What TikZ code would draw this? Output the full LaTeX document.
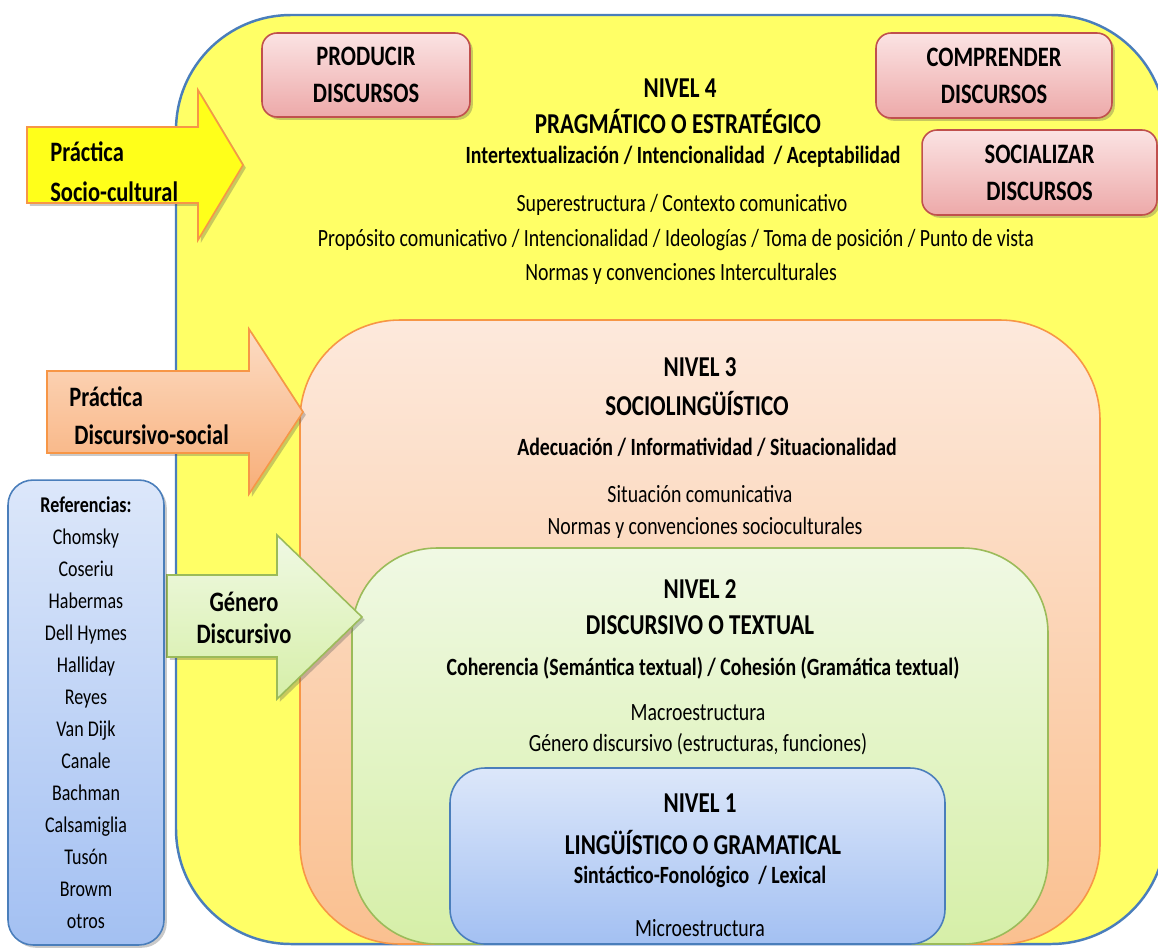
\documentclass[tikz,border=0pt]{standalone}
\usepackage{fontspec}
\setmainfont[FakeStretch=0.8]{Carlito}
\usetikzlibrary{shadows}
\definecolor{amarillo}{HTML}{FFFF66}
\definecolor{azulborde}{HTML}{4A7EBB}
\definecolor{naranjaborde}{HTML}{F79646}
\definecolor{naranjaA}{HTML}{FDE9DC}
\definecolor{naranjaB}{HTML}{FAC090}
\definecolor{verdeborde}{HTML}{9BBB59}
\definecolor{verdeA}{HTML}{F0F9E4}
\definecolor{verdeB}{HTML}{D6EFA8}
\definecolor{azulA}{HTML}{DCE7FA}
\definecolor{azulB}{HTML}{A3C0F2}
\definecolor{rosaborde}{HTML}{C0504D}
\definecolor{rosaA}{HTML}{FBE3E3}
\definecolor{rosaB}{HTML}{EDA9A9}
\definecolor{flechaam}{HTML}{FFFF1A}
\definecolor{flechanA}{HTML}{FCDCC4}
\definecolor{flechanB}{HTML}{F8AE78}
\tikzset{
  softshadow/.style={drop shadow={shadow xshift=1.6pt, shadow yshift=-1.6pt, opacity=0.3, fill=black!70}},
  nivelcuatro/.style={draw=azulborde, fill=amarillo, line width=1.4pt, rounded corners=2.3cm},
  niveltres/.style={draw=naranjaborde, top color=naranjaA, bottom color=naranjaB, line width=0.9pt, rounded corners=2cm},
  niveldos/.style={draw=verdeborde, top color=verdeA, bottom color=verdeB, line width=0.9pt, rounded corners=1.7cm},
  niveluno/.style={draw=azulborde, top color=azulA, bottom color=azulB, line width=0.9pt, rounded corners=0.7cm},
  rosa/.style={draw=rosaborde, top color=rosaA, bottom color=rosaB, line width=0.9pt, rounded corners=0.3cm,
    softshadow, align=center, font=\fontsize{16}{21}\selectfont\bfseries},
  refbox/.style={draw=azulborde, top color=azulA, bottom color=azulB, line width=0.9pt, rounded corners=0.5cm,
    softshadow, align=center, font=\fontsize{12.8}{18.2}\selectfont},
  flecha/.style={line width=0.9pt, line join=miter, softshadow},
  txt/.style={font=\fontsize{14.1}{16}\selectfont, inner sep=0pt},
  txtb/.style={font=\fontsize{14.1}{16}\selectfont\bfseries, inner sep=0pt},
  ttl/.style={font=\fontsize{16.4}{18}\selectfont\bfseries, inner sep=0pt},
  flechatxt/.style={font=\fontsize{16}{18}\selectfont\bfseries, inner sep=0pt},
}
\begin{document}
\begin{tikzpicture}[x=0.02cm, y=-0.02cm]
  \useasboundingbox (0,0) rectangle (1158,947);

  % niveles
  \draw[nivelcuatro] (176,15) rectangle (1166,944);
  \draw[niveltres] (300,320) rectangle (1100,944);
  \draw[niveldos] (352,548) rectangle (1048,944);
  \draw[niveluno] (450,768) rectangle (945,944);

  % acciones
  \node[rosa, minimum width=4.16cm, minimum height=1.68cm] (producir) at (366,75) {PRODUCIR\\DISCURSOS};
  \node[rosa, minimum width=4.72cm, minimum height=1.7cm] (comprender) at (994,75.5) {COMPRENDER\\DISCURSOS};
  \node[rosa, minimum width=4.7cm, minimum height=1.7cm] (socializar) at (1039.5,172.5) {SOCIALIZAR\\DISCURSOS};

  % flechas
  \draw[flecha, draw=naranjaborde, fill=flechaam]
    (27,127) -- (198,127) -- (198,90) -- (243,165) -- (198,240) -- (198,203) -- (27,203) -- cycle;
  \draw[flecha, draw=naranjaborde, top color=flechanA, bottom color=flechanB]
    (47,371) -- (249,371) -- (249,329) -- (303,412) -- (249,494) -- (249,453) -- (47,453) -- cycle;
  \draw[flecha, draw=verdeborde, top color=verdeA, bottom color=verdeB]
    (167,575) -- (277,575) -- (277,535) -- (362,617) -- (277,699) -- (277,657) -- (167,657) -- cycle;

  \node[flechatxt, anchor=west] (pract1) at (50,152) {Práctica};
  \node[flechatxt, anchor=west] (sociocult) at (50,192) {Socio-cultural};
  \node[flechatxt, anchor=west] (pract2) at (69,397) {Práctica};
  \node[flechatxt, anchor=west] (discsoc) at (74,435) {Discursivo-social};
  \node[flechatxt] (genero) at (244,602) {Género};
  \node[flechatxt] (discurs) at (244,634) {Discursivo};

  % referencias
  \node[refbox, minimum width=3.12cm, minimum height=9.3cm] (refs) at (86,712.5)
    {{\bfseries Referencias:}\\Chomsky\\Coseriu\\Habermas\\Dell Hymes\\Halliday\\Reyes\\Van Dijk\\Canale\\Bachman\\Calsamiglia\\Tusón\\Browm\\otros};

  % nivel 4
  \node[ttl] (n4) at (680,88) {NIVEL 4};
  \node[ttl] (n4t) at (678,121) {PRAGMÁTICO O ESTRATÉGICO};
  \node[txtb] (n4a) at (683,157) {Intertextualización / Intencionalidad \ / Aceptabilidad};
  \node[txt] (n4b) at (682,205) {Superestructura / Contexto comunicativo};
  \node[txt] (n4c) at (676,240) {Propósito comunicativo / Intencionalidad / Ideologías / Toma de posición / Punto de vista};
  \node[txt] (n4d) at (681,274) {Normas y convenciones Interculturales};

  % nivel 3
  \node[ttl] (n3) at (700,367) {NIVEL 3};
  \node[ttl] (n3t) at (697,403) {SOCIOLINGÜÍSTICO};
  \node[txtb] (n3a) at (707,447) {Adecuación / Informatividad / Situacionalidad};
  \node[txt] (n3b) at (700,494) {Situación comunicativa};
  \node[txt] (n3c) at (705,528) {Normas y convenciones socioculturales};

  % nivel 2
  \node[ttl] (n2) at (700,589) {NIVEL 2};
  \node[ttl] (n2t) at (700,625) {DISCURSIVO O TEXTUAL};
  \node[txtb] (n2a) at (703,668) {Coherencia (Semántica textual) / Cohesión (Gramática textual)};
  \node[txt] (n2b) at (698,713) {Macroestructura};
  \node[txt] (n2c) at (698,744) {Género discursivo (estructuras, funciones)};

  % nivel 1
  \node[ttl] (n1) at (700,803) {NIVEL 1};
  \node[ttl] (n1t) at (703,842) {LINGÜÍSTICO O GRAMATICAL};
  \node[txtb] (n1a) at (700,877) {Sintáctico-Fonológico \ / Lexical};
  \node[txt] (n1b) at (700,928) {Microestructura};
\end{tikzpicture}
\end{document}
